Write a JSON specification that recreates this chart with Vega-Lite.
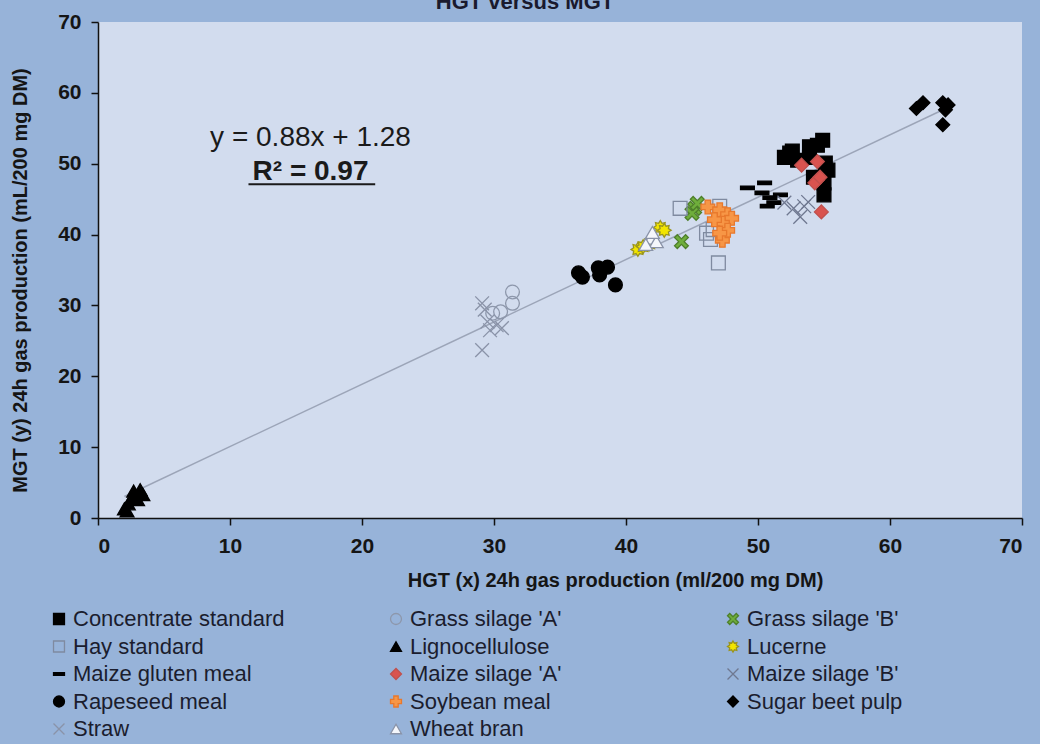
{
  "$schema": "https://vega.github.io/schema/vega-lite/v6.json",
  "width": 924,
  "height": 496,
  "autosize": {"type": "none"},
  "padding": {"left": 98, "top": 22, "right": 18, "bottom": 226},
  "background": "#97b3d9",
  "title": {"text": "HGT versus MGT", "anchor": "middle", "frame": "group", "offset": 0, "baseline": "alphabetic", "fontSize": 22, "font": "Liberation Sans", "fontWeight": "bold", "color": "#1a1a2e", "dx": -35, "dy": 20},
  "config": {
    "view": {"fill": "#d2dcee", "stroke": null},
    "axis": {"grid": false, "domainColor": "#111111", "domainWidth": 1.5, "tickColor": "#111111", "tickWidth": 1.5, "tickSize": 7, "labelFont": "Liberation Sans", "labelFontWeight": "bold", "labelFontSize": 21, "labelColor": "#151515", "labelPadding": 10, "titleFont": "Liberation Sans", "titleFontWeight": "bold", "titleFontSize": 20, "titleColor": "#151515"},
    "legend": {"orient": "none", "direction": "horizontal", "legendX": -50, "legendY": 586, "columns": 3, "gridAlign": "all", "columnPadding": 100, "rowPadding": 5.5, "labelFontSize": 22, "labelFont": "Liberation Sans", "labelColor": "#1b1d2e", "symbolSize": 120, "symbolStrokeWidth": 1.3, "labelLimit": 0, "labelOffset": 3}
  },
  "datasets": {
    "pts": [
      {"g": "Concentrate standard", "x": 52.4, "y": 51.5},
      {"g": "Concentrate standard", "x": 52.0, "y": 50.9},
      {"g": "Concentrate standard", "x": 53.0, "y": 50.5},
      {"g": "Concentrate standard", "x": 53.9, "y": 52.4},
      {"g": "Concentrate standard", "x": 54.9, "y": 53.3},
      {"g": "Concentrate standard", "x": 54.5, "y": 52.6},
      {"g": "Concentrate standard", "x": 55.1, "y": 50.1},
      {"g": "Concentrate standard", "x": 55.3, "y": 49.1},
      {"g": "Concentrate standard", "x": 55.0, "y": 47.3},
      {"g": "Concentrate standard", "x": 55.0, "y": 45.6},
      {"g": "Concentrate standard", "x": 54.2, "y": 48.1},
      {"g": "Concentrate standard", "x": 53.9, "y": 50.9},
      {"g": "Concentrate standard", "x": 52.6, "y": 51.8},
      {"g": "Grass silage 'A'", "x": 31.4, "y": 31.9},
      {"g": "Grass silage 'A'", "x": 31.4, "y": 30.3},
      {"g": "Grass silage 'A'", "x": 30.5, "y": 29.1},
      {"g": "Grass silage 'A'", "x": 29.9, "y": 28.9},
      {"g": "Grass silage 'B'", "x": 45.2, "y": 43.7},
      {"g": "Grass silage 'B'", "x": 45.0, "y": 43.0},
      {"g": "Grass silage 'B'", "x": 45.4, "y": 44.4},
      {"g": "Grass silage 'B'", "x": 44.2, "y": 39.0},
      {"g": "Hay standard", "x": 44.1, "y": 43.7},
      {"g": "Hay standard", "x": 47.1, "y": 44.0},
      {"g": "Hay standard", "x": 46.1, "y": 40.2},
      {"g": "Hay standard", "x": 46.4, "y": 39.3},
      {"g": "Hay standard", "x": 47.0, "y": 36.0},
      {"g": "Hay standard", "x": 46.6, "y": 40.7},
      {"g": "Lignocellulose", "x": 2.0, "y": 1.3},
      {"g": "Lignocellulose", "x": 2.3, "y": 2.0},
      {"g": "Lignocellulose", "x": 2.6, "y": 3.0},
      {"g": "Lignocellulose", "x": 2.7, "y": 3.8},
      {"g": "Lignocellulose", "x": 3.2, "y": 4.0},
      {"g": "Lignocellulose", "x": 3.0, "y": 2.6},
      {"g": "Lignocellulose", "x": 2.2, "y": 1.0},
      {"g": "Lignocellulose", "x": 3.4, "y": 3.3},
      {"g": "Lucerne", "x": 40.9, "y": 37.9},
      {"g": "Lucerne", "x": 41.3, "y": 38.3},
      {"g": "Lucerne", "x": 41.8, "y": 38.7},
      {"g": "Lucerne", "x": 42.6, "y": 41.0},
      {"g": "Lucerne", "x": 42.9, "y": 40.6},
      {"g": "Maize gluten meal", "x": 49.2, "y": 46.6},
      {"g": "Maize gluten meal", "x": 50.5, "y": 47.3},
      {"g": "Maize gluten meal", "x": 50.3, "y": 45.9},
      {"g": "Maize gluten meal", "x": 50.9, "y": 45.2},
      {"g": "Maize gluten meal", "x": 51.7, "y": 45.6},
      {"g": "Maize gluten meal", "x": 50.7, "y": 44.0},
      {"g": "Maize gluten meal", "x": 51.2, "y": 44.5},
      {"g": "Maize silage 'A'", "x": 53.3, "y": 49.8},
      {"g": "Maize silage 'A'", "x": 54.5, "y": 50.3},
      {"g": "Maize silage 'A'", "x": 54.5, "y": 47.7},
      {"g": "Maize silage 'A'", "x": 54.3, "y": 47.3},
      {"g": "Maize silage 'A'", "x": 54.8, "y": 43.2},
      {"g": "Maize silage 'A'", "x": 54.7, "y": 48.1},
      {"g": "Maize silage 'B'", "x": 52.0, "y": 44.5},
      {"g": "Maize silage 'B'", "x": 53.8, "y": 44.6},
      {"g": "Maize silage 'B'", "x": 53.2, "y": 42.5},
      {"g": "Maize silage 'B'", "x": 52.7, "y": 43.7},
      {"g": "Maize silage 'B'", "x": 53.5, "y": 44.0},
      {"g": "Rapeseed meal", "x": 36.4, "y": 34.6},
      {"g": "Rapeseed meal", "x": 36.7, "y": 34.0},
      {"g": "Rapeseed meal", "x": 37.9, "y": 35.3},
      {"g": "Rapeseed meal", "x": 38.6, "y": 35.4},
      {"g": "Rapeseed meal", "x": 38.0, "y": 34.3},
      {"g": "Rapeseed meal", "x": 39.2, "y": 32.9},
      {"g": "Soybean meal", "x": 46.2, "y": 43.9},
      {"g": "Soybean meal", "x": 47.1, "y": 43.5},
      {"g": "Soybean meal", "x": 47.7, "y": 42.8},
      {"g": "Soybean meal", "x": 48.0, "y": 42.3},
      {"g": "Soybean meal", "x": 47.3, "y": 41.6},
      {"g": "Soybean meal", "x": 47.7, "y": 40.6},
      {"g": "Soybean meal", "x": 47.3, "y": 39.2},
      {"g": "Soybean meal", "x": 47.1, "y": 40.2},
      {"g": "Soybean meal", "x": 46.7, "y": 42.1},
      {"g": "Sugar beet pulp", "x": 62.0, "y": 57.8},
      {"g": "Sugar beet pulp", "x": 62.5, "y": 58.6},
      {"g": "Sugar beet pulp", "x": 64.0, "y": 58.6},
      {"g": "Sugar beet pulp", "x": 64.4, "y": 58.3},
      {"g": "Sugar beet pulp", "x": 64.2, "y": 57.6},
      {"g": "Sugar beet pulp", "x": 64.0, "y": 55.5},
      {"g": "Straw", "x": 29.1, "y": 30.3},
      {"g": "Straw", "x": 29.3, "y": 29.4},
      {"g": "Straw", "x": 29.5, "y": 27.7},
      {"g": "Straw", "x": 29.7, "y": 26.5},
      {"g": "Straw", "x": 30.6, "y": 26.8},
      {"g": "Straw", "x": 30.2, "y": 27.2},
      {"g": "Straw", "x": 29.1, "y": 23.7},
      {"g": "Wheat bran", "x": 41.9, "y": 39.5},
      {"g": "Wheat bran", "x": 42.3, "y": 39.0},
      {"g": "Wheat bran", "x": 42.0, "y": 40.3},
      {"g": "Wheat bran", "x": 41.5, "y": 38.6}
    ],
    "fit": [{"x": 2.0, "y": 3.04}, {"x": 64.5, "y": 58.04}],
    "eq": [{"label": "y = 0.88x + 1.28", "x": 16.1, "y": 53.6}],
    "r2": [{"label": "R² = 0.97", "x": 16.1, "y": 48.8}],
    "ul": [{"x": 11.4, "x2": 21.0, "y": 47.1}]
  },
  "layer": [
    {
      "data": {"name": "fit"},
      "mark": {"type": "line", "color": "#9ca5b8", "strokeWidth": 1.5},
      "encoding": {
        "x": {"field": "x", "type": "quantitative", "scale": {"domain": [0, 70], "nice": false, "zero": false},
          "axis": {"values": [0, 10, 20, 30, 40, 50, 60, 70], "title": "HGT (x) 24h gas production (ml/200 mg DM)", "titleX": 517, "titleY": 62, "titleAlign": "center", "titleBaseline": "middle"}},
        "y": {"field": "y", "type": "quantitative", "scale": {"domain": [0, 70], "nice": false, "zero": false},
          "axis": {"values": [0, 10, 20, 30, 40, 50, 60, 70], "title": "MGT (y) 24h gas production (mL/200 mg DM)", "titleX": -78, "titleY": 258, "titleAlign": "center", "titleBaseline": "middle"}}
      }
    },
    {
      "data": {"name": "pts"},
      "mark": {"type": "point", "filled": true, "size": 190, "strokeWidth": 1.3, "opacity": 1},
      "encoding": {
        "x": {"field": "x", "type": "quantitative"},
        "y": {"field": "y", "type": "quantitative"},
        "shape": {"field": "g", "type": "nominal", "title": null,
          "scale": {"domain": ["Concentrate standard", "Grass silage 'A'", "Grass silage 'B'", "Hay standard", "Lignocellulose", "Lucerne", "Maize gluten meal", "Maize silage 'A'", "Maize silage 'B'", "Rapeseed meal", "Soybean meal", "Sugar beet pulp", "Straw", "Wheat bran"],
            "range": ["square", "circle", "M-1,-0.6L-0.6,-1L0,-0.4L0.6,-1L1,-0.6L0.4,0L1,0.6L0.6,1L0,0.4L-0.6,1L-1,0.6L-0.4,0Z", "square", "triangle-up", "M0,-1L0.25,-0.6L0.7,-0.7L0.6,-0.25L1,0L0.6,0.25L0.7,0.7L0.25,0.6L0,1L-0.25,0.6L-0.7,0.7L-0.6,0.25L-1,0L-0.6,-0.25L-0.7,-0.7L-0.25,-0.6Z", "M-1,-0.25H1V0.25H-1Z", "diamond", "M-1,-1L1,1M-1,1L1,-1", "circle", "cross", "diamond", "M-1,-1L1,1M-1,1L1,-1", "triangle-up"]}},
        "fill": {"field": "g", "type": "nominal", "title": null,
          "scale": {"domain": ["Concentrate standard", "Grass silage 'A'", "Grass silage 'B'", "Hay standard", "Lignocellulose", "Lucerne", "Maize gluten meal", "Maize silage 'A'", "Maize silage 'B'", "Rapeseed meal", "Soybean meal", "Sugar beet pulp", "Straw", "Wheat bran"],
            "range": ["#000000", "transparent", "#6fae3c", "transparent", "#000000", "#f2e500", "#000000", "#d9534f", "transparent", "#000000", "#f79646", "#000000", "transparent", "#f4f6fb"]}},
        "stroke": {"field": "g", "type": "nominal", "title": null,
          "scale": {"domain": ["Concentrate standard", "Grass silage 'A'", "Grass silage 'B'", "Hay standard", "Lignocellulose", "Lucerne", "Maize gluten meal", "Maize silage 'A'", "Maize silage 'B'", "Rapeseed meal", "Soybean meal", "Sugar beet pulp", "Straw", "Wheat bran"],
            "range": ["#000000", "#8d97ab", "#4e7f2a", "#7f8aa0", "#000000", "#9a9420", "#000000", "#c0504d", "#6f7890", "#000000", "#e8782c", "#000000", "#8a93a8", "#8a93a8"]}}
      }
    },
    {
      "data": {"name": "eq"},
      "mark": {"type": "text", "font": "Liberation Sans", "fontSize": 28, "color": "#1a1a1a", "align": "center", "baseline": "middle"},
      "encoding": {"x": {"field": "x", "type": "quantitative"}, "y": {"field": "y", "type": "quantitative"}, "text": {"field": "label"}}
    },
    {
      "data": {"name": "r2"},
      "mark": {"type": "text", "font": "Liberation Sans", "fontSize": 28, "fontWeight": "bold", "color": "#1a1a1a", "align": "center", "baseline": "middle"},
      "encoding": {"x": {"field": "x", "type": "quantitative"}, "y": {"field": "y", "type": "quantitative"}, "text": {"field": "label"}}
    },
    {
      "data": {"name": "ul"},
      "mark": {"type": "rule", "color": "#1a1a1a", "strokeWidth": 2},
      "encoding": {"x": {"field": "x", "type": "quantitative"}, "x2": {"field": "x2"}, "y": {"field": "y", "type": "quantitative"}}
    }
  ]
}
